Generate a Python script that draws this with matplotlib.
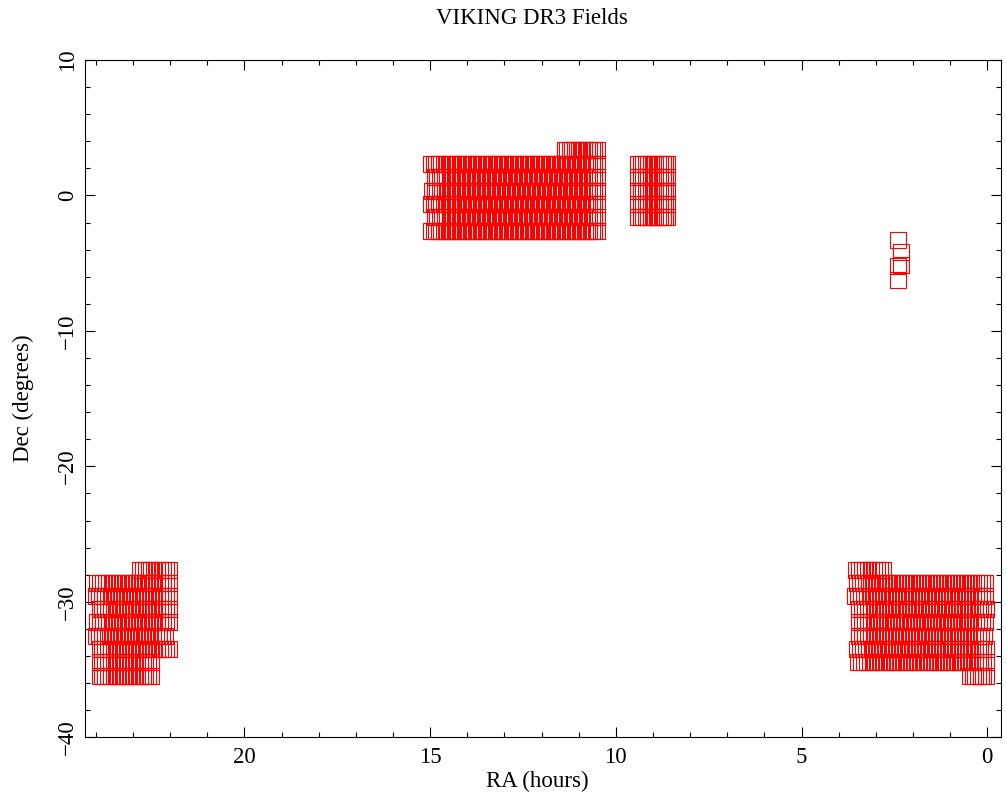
import numpy as np
import matplotlib
matplotlib.use("Agg")
import matplotlib.pyplot as plt
from matplotlib.ticker import MultipleLocator

# VIKING DR3 tile rows.
# Each row: Dec centre (deg), eastern-most RA centre, western-most RA centre (hours)
ngp_dec = [3.32, 2.31, 1.33, 0.35, -0.64, -1.62, -2.61]
ngp_ra_east = [11.38, 14.97, 14.88, 14.94, 14.97, 14.88, 14.97]
ngp_ra_west = [10.51, 10.51, 10.51, 10.51, 10.51, 10.51, 10.51]

g09_dec = [2.31, 1.33, 0.35, -0.64, -1.62]
g09_ra_east = [9.39, 9.39, 9.39, 9.39, 9.39]
g09_ra_west = [8.61, 8.61, 8.61, 8.61, 8.61]

sgp_left_dec = [-27.65, -28.58, -29.55, -30.53, -31.51, -32.50, -33.48, -34.43, -35.45]
sgp_left_ra_east = [22.81, 23.96, 23.99, 23.90, 23.96, 23.99, 23.90, 23.90, 23.90]
sgp_left_ra_west = [22.04, 22.04, 22.04, 22.04, 22.04, 22.15, 22.04, 22.51, 22.51]

sgp_right_dec = [-27.65, -28.58, -29.55, -30.53, -31.51, -32.50, -33.48, -34.43, -35.45]
sgp_right_ra_east = [3.53, 3.50, 3.55, 3.44, 3.44, 3.44, 3.50, 3.47, 0.47]
sgp_right_ra_west = [2.81, 0.07, 0.07, 0.03, 0.07, 0.10, 0.03, 0.03, 0.03]

# tile pitch along RA for each block (hours)
ra_pitch = {"ngp": 0.067, "g09": 0.067, "sgp": 0.077}

# a few isolated fields near RA 2.4h
iso_ra = [2.41, 2.32, 2.32, 2.39, 2.41]
iso_dec = [-3.28, -4.21, -5.15, -5.19, -6.24]

W, H = 1007, 794
L, R, T, B = 84.7, 1001.0, 60.0, 737.3          # axes box in pixels
fig = plt.figure(figsize=(W / 100, H / 100), dpi=100)
ax = fig.add_axes([L / W, 1 - B / H, (R - L) / W, (B - T) / H])

FONT = "Liberation Serif"
FS = 16.5
mk = dict(ls="none", marker="s", mfc="none", mec="red", ms=11, mew=0.8)


def draw_rows(decs, east, west, pitch):
    for d, e, w in zip(decs, east, west):
        n = int(round((e - w) / pitch)) + 1            # tiles in this row
        ra = np.linspace(e, w, n)
        ax.plot(ra, np.full(n, d), **mk)


draw_rows(ngp_dec, ngp_ra_east, ngp_ra_west, ra_pitch["ngp"])
draw_rows(g09_dec, g09_ra_east, g09_ra_west, ra_pitch["g09"])
draw_rows(sgp_left_dec, sgp_left_ra_east, sgp_left_ra_west, ra_pitch["sgp"])
draw_rows(sgp_right_dec, sgp_right_ra_east, sgp_right_ra_west, ra_pitch["sgp"])
ax.plot(iso_ra, iso_dec, **mk)

ax.set_xlim(24.3, -0.37)
ax.set_ylim(-40, 10)
ax.xaxis.set_major_locator(MultipleLocator(5))
ax.xaxis.set_minor_locator(MultipleLocator(1))
ax.yaxis.set_major_locator(MultipleLocator(10))
ax.yaxis.set_minor_locator(MultipleLocator(2))
ax.tick_params(which="both", direction="in", top=True, right=True, width=0.8, color="black")
ax.tick_params(which="major", length=7.2)
ax.tick_params(which="minor", length=3.6)
ax.tick_params(axis="x", pad=7, labelsize=FS)
ax.tick_params(axis="y", pad=5, labelsize=FS, labelrotation=90)
for lab in ax.get_yticklabels():
    lab.set_verticalalignment("center")
for lab in ax.get_xticklabels() + ax.get_yticklabels():
    lab.set_family(FONT)
for s in ax.spines.values():
    s.set_linewidth(0.8)

ax.set_xlabel("RA (hours)", family=FONT, fontsize=FS)
ax.xaxis.set_label_coords((537 - L) / (R - L), (B - 771) / (B - T))
ax.set_ylabel("Dec (degrees)", family=FONT, fontsize=FS)
ax.yaxis.set_label_coords((34 - L) / (R - L), 0.5)
fig.text(532 / W, 1 - 24 / H, "VIKING DR3 Fields", family=FONT, fontsize=FS,
         ha="center", va="baseline")

fig.savefig("out.png", dpi=100)
